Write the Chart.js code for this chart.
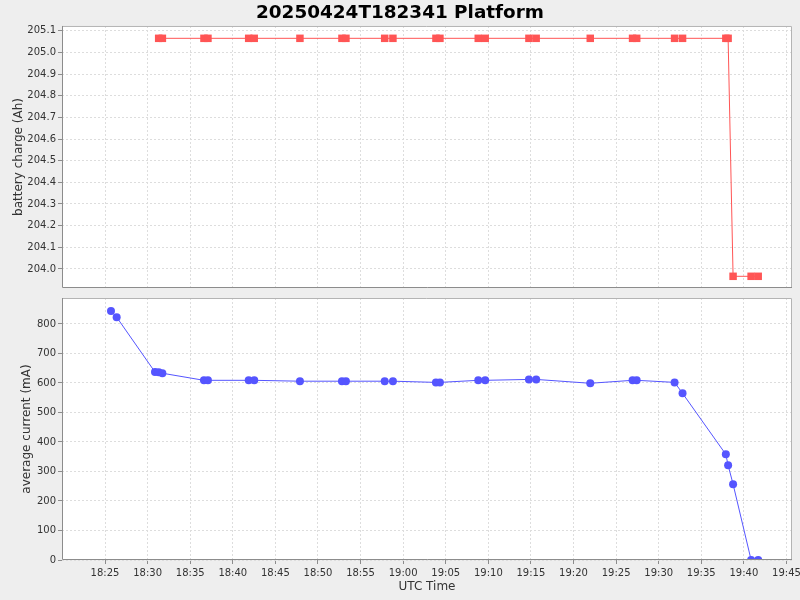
<!DOCTYPE html>
<html>
<head>
<meta charset="utf-8">
<script src="https://cdn.jsdelivr.net/npm/chart.js@4.4.1/dist/chart.umd.min.js"></script>
<style>
  html, body { margin: 0; padding: 0; background: #eeeeee; }
  #wrap { position: relative; width: 800px; height: 600px; overflow: hidden; }
  canvas { position: absolute; left: 0; }
  #chargeChart { top: 0; }
  #currentChart { top: 290px; }
</style>
</head>
<body>
<div id="wrap">
  <canvas id="chargeChart" width="800" height="300"></canvas>
  <canvas id="currentChart" width="800" height="310"></canvas>
</div>
<script>
// values
const chartTitle = '20250424T182341 Platform';
const timeTicks = ['18:25', '18:30', '18:35', '18:40', '18:45', '18:50', '18:55', '19:00',
    '19:05', '19:10', '19:15', '19:20', '19:25', '19:30', '19:35', '19:40', '19:45'];

const chargeTimes = ['18:31:18', '18:31:44', '18:36:37', '18:37:05', '18:41:52', '18:42:31',
    '18:47:53', '18:52:49', '18:53:17', '18:57:50', '18:58:48', '19:03:51', '19:04:19',
    '19:08:49', '19:09:38', '19:14:46', '19:15:37', '19:21:58', '19:26:56', '19:27:25',
    '19:31:52', '19:32:48', '19:37:53', '19:38:09', '19:38:44', '19:40:51', '19:41:41'];
const chargeValues = [205.065, 205.065, 205.065, 205.065, 205.065, 205.065,
    205.065, 205.065, 205.065, 205.065, 205.065, 205.065, 205.065,
    205.065, 205.065, 205.065, 205.065, 205.065, 205.065, 205.065,
    205.065, 205.065, 205.065, 205.065, 203.966, 203.966, 203.966];
const chargeTicks = [204.0, 204.1, 204.2, 204.3, 204.4, 204.5, 204.6, 204.7, 204.8, 204.9, 205.0, 205.1];

const currentTimes = ['18:25:42', '18:26:22', '18:30:52', '18:31:18', '18:31:44', '18:36:37',
    '18:37:05', '18:41:52', '18:42:31', '18:47:53', '18:52:49', '18:53:17', '18:57:50',
    '18:58:48', '19:03:51', '19:04:19', '19:08:49', '19:09:38', '19:14:46', '19:15:37',
    '19:21:58', '19:26:56', '19:27:25', '19:31:52', '19:32:48', '19:37:53', '19:38:09',
    '19:38:44', '19:40:51', '19:41:41'];
const currentValues = [844, 823, 637, 636, 633, 609,
    609, 609, 609, 606, 606, 606, 606,
    606, 602, 602, 609, 609, 612, 612,
    599, 609, 609, 602, 565, 358, 321,
    257, 0, 0];
const currentTicks = [0, 100, 200, 300, 400, 500, 600, 700, 800];

// time of day as minutes
function toMin(s) {
    const p = s.split(':').map(Number);
    return p[0] * 60 + p[1] + (p[2] || 0) / 60;
}
function fmtTime(v) {
    const h = Math.floor(v / 60);
    const m = Math.round(v - h * 60);
    return String(h).padStart(2, '0') + ':' + String(m).padStart(2, '0');
}

const xMin = toMin('18:19:57');
const xMax = toMin('19:45:39');
const gridColor = '#dddddd';
const tickFont = { family: 'DejaVu Sans', size: 10 };
const labelFont = { family: 'DejaVu Sans', size: 12 };

Chart.defaults.font.family = 'DejaVu Sans';
Chart.defaults.color = '#333333';

// white plot background and frame
const plotFrame = {
    id: 'plotFrame',
    beforeDraw(chart) {
        const a = chart.chartArea;
        const ctx = chart.ctx;
        ctx.save();
        ctx.fillStyle = '#ffffff';
        ctx.fillRect(a.left, a.top, a.right - a.left, a.bottom - a.top);
        ctx.restore();
    },
    afterDraw(chart) {
        const a = chart.chartArea;
        const ctx = chart.ctx;
        ctx.save();
        ctx.lineWidth = 1;
        ctx.strokeStyle = '#b4b4b4';
        ctx.beginPath();
        ctx.moveTo(a.left, a.top + 0.5);
        ctx.lineTo(a.right - 0.5, a.top + 0.5);
        ctx.lineTo(a.right - 0.5, a.bottom);
        ctx.stroke();
        ctx.strokeStyle = '#8c8c8c';
        ctx.beginPath();
        ctx.moveTo(a.left + 0.5, a.top);
        ctx.lineTo(a.left + 0.5, a.bottom - 0.5);
        ctx.lineTo(a.right, a.bottom - 0.5);
        ctx.stroke();
        ctx.restore();
    }
};

function xScale(showLabels, height) {
    return {
        type: 'linear',
        min: xMin,
        max: xMax,
        afterBuildTicks: s => { s.ticks = timeTicks.map(t => ({ value: toMin(t) })); },
        afterFit: s => { s.height = height; s.paddingLeft = 0; s.paddingRight = 0; },
        ticks: {
            display: showLabels,
            font: tickFont,
            color: '#333333',
            padding: 3,
            maxRotation: 0,
            autoSkip: false,
            callback: v => fmtTime(v)
        },
        grid: { color: gridColor, drawTicks: showLabels, tickLength: 4, tickColor: '#8c8c8c', tickBorderDash: [] },
        border: { display: false, dash: [2, 2] },
        title: showLabels ? { display: true, text: 'UTC Time', font: labelFont, color: '#333333', padding: { top: 2, bottom: 6 } } : { display: false }
    };
}

function yScale(tickList, min, max, label, width, digits) {
    return {
        type: 'linear',
        min: min,
        max: max,
        afterBuildTicks: s => { s.ticks = tickList.map(v => ({ value: v })); },
        afterFit: s => { s.width = width; s.paddingTop = 0; s.paddingBottom = 0; },
        ticks: {
            font: tickFont,
            color: '#333333',
            padding: 2,
            autoSkip: false,
            callback: v => Number(v).toFixed(digits)
        },
        grid: { color: gridColor, drawTicks: true, tickLength: 4, tickColor: '#8c8c8c', tickBorderDash: [] },
        border: { display: false, dash: [2, 2] },
        title: { display: true, text: label, font: labelFont, color: '#333333', padding: { top: 4, bottom: 4 } }
    };
}

new Chart(document.getElementById('chargeChart'), {
    type: 'line',
    data: {
        datasets: [{
            label: 'battery charge',
            data: chargeTimes.map((t, i) => ({ x: toMin(t), y: chargeValues[i] })),
            borderColor: '#ff5555',
            backgroundColor: '#ff5555',
            borderWidth: 1,
            pointStyle: 'rect',
            pointRadius: 5.3,
            pointBorderWidth: 0,
            tension: 0
        }]
    },
    options: {
        responsive: false,
        animation: false,
        devicePixelRatio: 1,
        layout: { padding: { left: 8, right: 8, top: 0, bottom: 0 } },
        plugins: {
            legend: { display: false },
            tooltip: { enabled: false },
            title: {
                display: true,
                text: chartTitle,
                color: '#000000',
                font: { family: 'DejaVu Sans', size: 18.4, weight: 'bold' },
                padding: { top: 2, bottom: 1.9 }
            }
        },
        scales: {
            x: xScale(false, 12),
            y: yScale(chargeTicks, 203.912, 205.122, 'battery charge (Ah)', 54, 1)
        }
    },
    plugins: [plotFrame]
});

new Chart(document.getElementById('currentChart'), {
    type: 'line',
    data: {
        datasets: [{
            label: 'average current',
            data: currentTimes.map((t, i) => ({ x: toMin(t), y: currentValues[i] })),
            borderColor: '#5555ff',
            backgroundColor: '#5555ff',
            borderWidth: 1,
            pointStyle: 'circle',
            pointRadius: 4,
            pointBorderWidth: 0,
            tension: 0
        }]
    },
    options: {
        responsive: false,
        animation: false,
        devicePixelRatio: 1,
        layout: { padding: { left: 16, right: 8, top: 8, bottom: 0 } },
        plugins: {
            legend: { display: false },
            tooltip: { enabled: false }
        },
        scales: {
            x: xScale(true, 40),
            y: yScale(currentTicks, 0, 888, 'average current (mA)', 46, 0)
        }
    },
    plugins: [plotFrame]
});
</script>
</body>
</html>
